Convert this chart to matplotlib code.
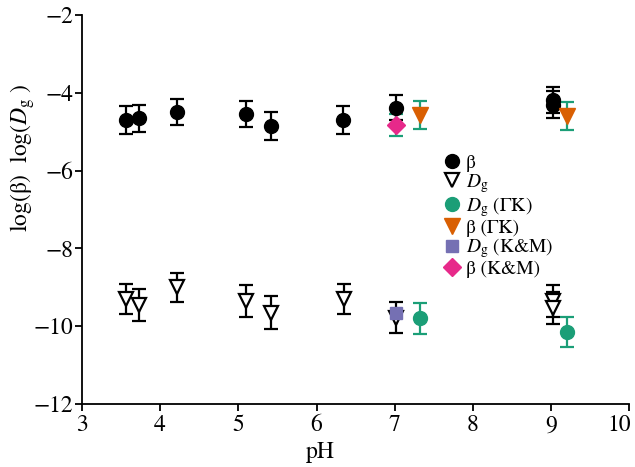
import numpy as np
import matplotlib
matplotlib.use('Agg')
import matplotlib.pyplot as plt
from matplotlib.lines import Line2D
from matplotlib.transforms import ScaledTranslation

plt.rcParams['font.family'] = ['STIXGeneral', 'DejaVu Serif']
plt.rcParams['mathtext.fontset'] = 'stix'

# beta (this work)
beta_ph = [3.57, 3.73, 4.22, 5.10, 5.42, 6.34, 7.02, 9.03, 9.03]
beta_val = [-4.70, -4.66, -4.50, -4.55, -4.85, -4.70, -4.38, -4.18, -4.31]
beta_err = [0.35, 0.35, 0.33, 0.34, 0.36, 0.35, 0.33, 0.34, 0.35]

# D_g (this work)
dg_ph = [3.57, 3.73, 4.22, 5.10, 5.42, 6.35, 7.02, 9.03, 9.03]
dg_val = [-9.31, -9.45, -9.00, -9.35, -9.65, -9.31, -9.78, -9.35, -9.54]
dg_err = [0.39, 0.41, 0.37, 0.41, 0.42, 0.39, 0.40, 0.41, 0.41]

# D_g (GK)
dg_gk_ph = [7.32, 9.20]
dg_gk_val = [-9.80, -10.15]
dg_gk_err = [0.40, 0.39]

# beta (GK)
beta_gk_ph = [7.32, 9.20]
beta_gk_val = [-4.57, -4.59]
beta_gk_err = [0.35, 0.36]

# D_g (K&M)
dg_km_ph = [7.02]
dg_km_val = [-9.65]

# beta (K&M)
beta_km_ph = [7.02]
beta_km_val = [-4.83]
beta_km_err = [0.28]

teal = '#1b9e77'
orange = '#d95f02'
purple = '#7570b3'
pink = '#e7298a'

fig = plt.figure(figsize=(6.35, 4.67), dpi=100)
ax = fig.add_axes([0.129, 0.135, 0.862, 0.833])

eb = dict(capsize=5, elinewidth=1.6, capthick=1.6, linestyle='none')

ax.errorbar(beta_ph, beta_val, yerr=beta_err, fmt='o', color='black',
            markersize=10, **eb)
ax.errorbar(dg_ph, dg_val, yerr=dg_err, fmt='v', color='black', mfc='white',
            mec='black', mew=1.6, markersize=10, **eb)
ax.errorbar(dg_gk_ph, dg_gk_val, yerr=dg_gk_err, fmt='o', color=teal,
            markersize=10, **eb)
ax.errorbar(beta_gk_ph, beta_gk_val, yerr=beta_gk_err, fmt='v', color=orange,
            ecolor=teal, markersize=11, **eb)
ax.plot(dg_km_ph, dg_km_val, 's', color=purple, markersize=9, linestyle='none',
        zorder=5)
ax.errorbar(beta_km_ph, beta_km_val, yerr=beta_km_err, fmt='D', color=pink,
            ecolor=teal, markersize=9, **eb)

ax.set_xlim(3, 10)
ax.set_ylim(-12, -2)
ax.set_xticks(range(3, 11))
ax.set_yticks(range(-12, -1, 2))
ax.spines['top'].set_visible(False)
ax.spines['right'].set_visible(False)
for s in ['left', 'bottom']:
    ax.spines[s].set_linewidth(1.3)
ax.tick_params(labelsize=17, width=1.3, length=5)
ax.tick_params(axis='x', pad=3)
ax.tick_params(axis='y', pad=1)

# keep the last x label ("10") inside the picture
last = ax.xaxis.get_major_ticks()[-1].label1
last.set_transform(last.get_transform()
                   + ScaledTranslation(-7 / 72, 0, fig.dpi_scale_trans))

ax.set_xlabel('pH', fontsize=17)
ax.set_ylabel(r'log(β)  log($D_{\rm g}$ )', fontsize=17)
ax.xaxis.set_label_coords(0.435, -0.098)
ax.yaxis.set_label_coords(-0.082, 0.632)

handles = [
    Line2D([], [], marker='o', color='black', linestyle='none', markersize=10),
    Line2D([], [], marker='v', mfc='white', mec='black', mew=1.6,
           linestyle='none', markersize=10),
    Line2D([], [], marker='o', color=teal, linestyle='none', markersize=10),
    Line2D([], [], marker='v', color=orange, linestyle='none', markersize=11),
    Line2D([], [], marker='s', color=purple, linestyle='none', markersize=9),
    Line2D([], [], marker='D', color=pink, linestyle='none', markersize=9),
]
labels = ['β', r'$D_{\rm g}$', r'$D_{\rm g}$ (ΓΚ)', 'β (ΓΚ)',
          r'$D_{\rm g}$ (K&M)', 'β (K&M)']
fig.legend(handles, labels, loc='upper left', bbox_to_anchor=(0.685, 0.69),
           frameon=False, fontsize=14, handlelength=0.8, handletextpad=0.3,
           labelspacing=0.0, borderpad=0)

fig.savefig('out.png', dpi=100)
